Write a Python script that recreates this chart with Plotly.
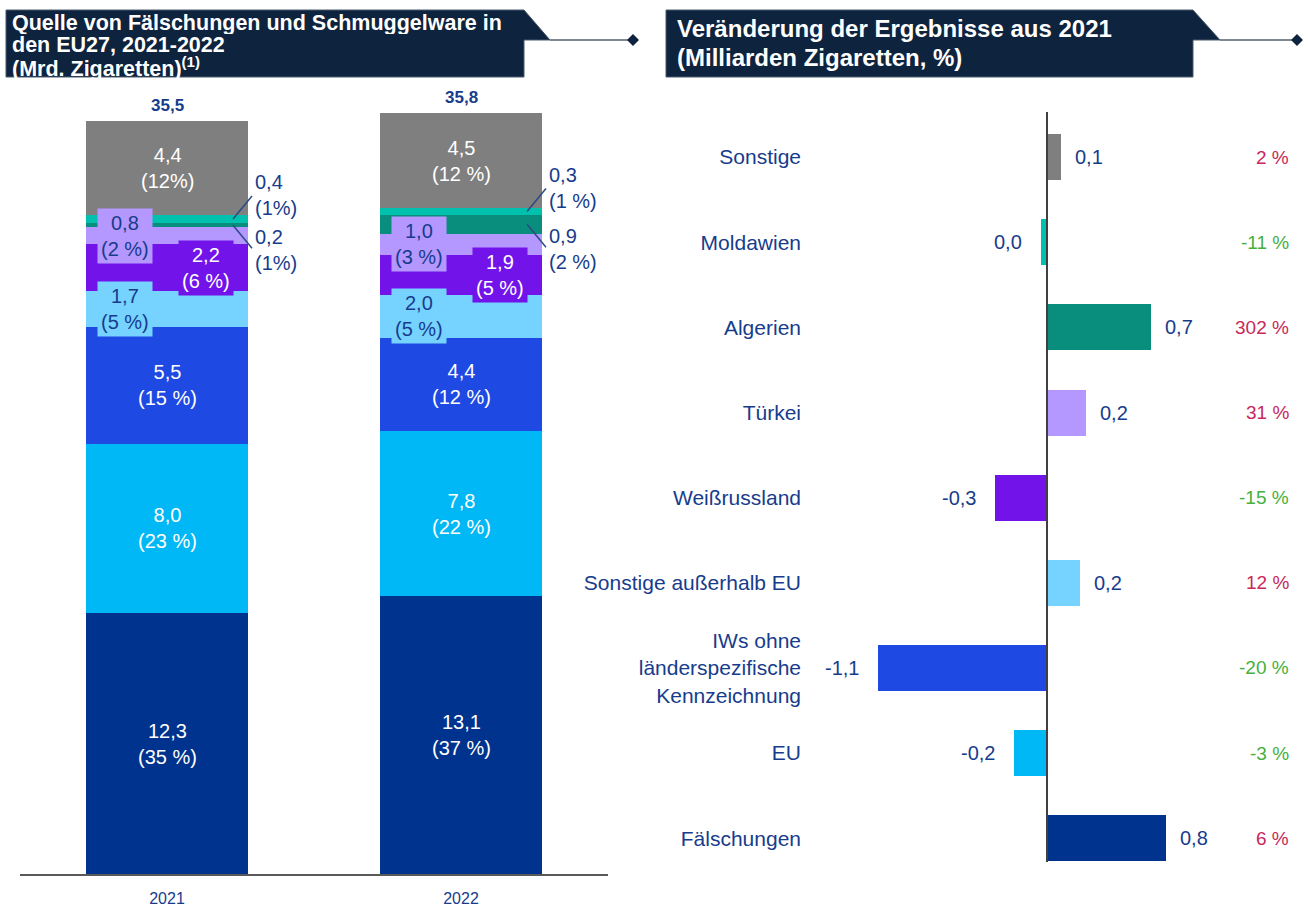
import plotly.graph_objects as go

W, H = 1310, 908
FONT = "Liberation Sans, Arial, sans-serif"
NAVY_TXT = "#173C8C"
HEADER_BG = "#0E233D"

# ---------------- data: left stacked chart (bottom -> top) ----------------
years = ["2021", "2022"]
segments = ["Fälschungen", "EU", "IWs ohne länderspezifische Kennzeichnung",
            "Sonstige außerhalb EU", "Weißrussland", "Türkei", "Algerien",
            "Moldawien", "Sonstige"]
vol_2021 = [12.3, 8.0, 5.5, 1.7, 2.2, 0.8, 0.2, 0.4, 4.4]
vol_2022 = [13.1, 7.8, 4.4, 2.0, 1.9, 1.0, 0.9, 0.3, 4.5]
share_2021 = ["35 %", "23 %", "15 %", "5 %", "6 %", "2 %", "1%", "1%", "12%"]
share_2022 = ["37 %", "22 %", "12 %", "5 %", "5 %", "3 %", "2 %", "1 %", "12 %"]
totals = [35.5, 35.8]

# ---------------- data: right change chart (top -> bottom) ----------------
change_categories = ["Sonstige", "Moldawien", "Algerien", "Türkei", "Weißrussland",
                     "Sonstige außerhalb EU",
                     "IWs ohne<br>länderspezifische<br>Kennzeichnung",
                     "EU", "Fälschungen"]
change_values = [0.09, -0.04, 0.69, 0.26, -0.35, 0.22, -1.13, -0.22, 0.79]
change_labels = ["0,1", "0,0", "0,7", "0,2", "-0,3", "0,2", "-1,1", "-0,2", "0,8"]
change_pct = [2, -11, 302, 31, -15, 12, -20, -3, 6]

# ---------------- styles ----------------
seg_colors = {
    "Fälschungen": "#00338D",
    "EU": "#00B8F5",
    "IWs ohne länderspezifische Kennzeichnung": "#1E49E2",
    "Sonstige außerhalb EU": "#76D2FF",
    "Weißrussland": "#7213EA",
    "Türkei": "#B497FF",
    "Algerien": "#098E7E",
    "Moldawien": "#00C0AE",
    "Sonstige": "#7F7F7F",
}
seg_text_color = {s: "white" for s in segments}
seg_text_color["Sonstige außerhalb EU"] = NAVY_TXT
seg_text_color["Türkei"] = NAVY_TXT
# label placement: center / left / right box / outside up / outside down
seg_label_style = {
    "Fälschungen": "center", "EU": "center",
    "IWs ohne länderspezifische Kennzeichnung": "center",
    "Sonstige außerhalb EU": "left", "Weißrussland": "right", "Türkei": "left",
    "Algerien": "out_down", "Moldawien": "out_up", "Sonstige": "center",
}
change_colors = ["#7F7F7F", "#00C0AE", "#098E7E", "#B497FF", "#7213EA",
                 "#76D2FF", "#1E49E2", "#00B8F5", "#00338D"]


def fmt(v):
    return f"{v:.1f}".replace(".", ",")


def px(x):
    return x / W


def py(y):
    return 1 - y / H


# axis geometry of the left chart
X0, X1 = 20, 608          # x-domain in pixels
XU = (X1 - X0) / 2        # pixels per category step
Y0, Y1 = 874, 90          # y-domain in pixels
PXU = 21.2                # pixels per Mrd.

fig = go.Figure()

vols = [vol_2021, vol_2022]
shares = [share_2021, share_2022]

for i, seg in enumerate(segments):
    fig.add_trace(go.Bar(
        x=years, y=[vol_2021[i], vol_2022[i]], name=seg,
        marker=dict(color=seg_colors[seg], line=dict(width=0)),
        width=0.55, xaxis="x", yaxis="y", showlegend=False, hoverinfo="skip",
    ))

fig.add_trace(go.Bar(
    x=change_values, y=change_categories, orientation="h",
    marker=dict(color=change_colors, line=dict(width=0)),
    width=0.54, xaxis="x2", yaxis="y2", showlegend=False, hoverinfo="skip",
))

annotations = []
shapes = []
LBL = 20

# ---- left chart labels (x given as category index) ----
for j, yr in enumerate(years):
    base = 0.0
    for i, seg in enumerate(segments):
        v = vols[j][i]
        mid = base + v / 2
        base += v
        txt = f"{fmt(v)}<br>({shares[j][i]})"
        style = seg_label_style[seg]
        col = seg_text_color[seg]
        if style == "center":
            annotations.append(dict(x=j, y=mid, xref="x", yref="y", text=txt,
                                    showarrow=False, font=dict(size=LBL, color=col, family=FONT)))
        elif style in ("left", "right"):
            annotations.append(dict(x=j, y=mid, xref="x", yref="y", text=txt,
                                    showarrow=False, xshift=-42 if style == "left" else 39,
                                    bgcolor=seg_colors[seg], borderpad=3,
                                    font=dict(size=LBL, color=col, family=FONT)))
        else:
            up = style == "out_up"
            sign = 1 if up else -1
            # leader line from inside the segment to the outside label
            shapes.append(dict(type="line", xref="x", yref="y",
                               x0=j + 66 / XU, y0=mid,
                               x1=j + 85 / XU, y1=mid + sign * 23 / PXU,
                               line=dict(color="#2B4A86", width=1.5)))
            annotations.append(dict(x=j, y=mid, xref="x", yref="y", text=txt,
                                    showarrow=False, xanchor="left", align="left",
                                    xshift=86, yshift=24 if up else -25,
                                    font=dict(size=LBL, color=NAVY_TXT, family=FONT)))
    annotations.append(dict(x=j, y=sum(vols[j]), xref="x", yref="y",
                            text=f"<b>{fmt(totals[j])}</b>", showarrow=False,
                            yanchor="bottom", yshift=4,
                            font=dict(size=17, color=NAVY_TXT, family=FONT)))

# ---- right chart labels ----
for cat, v, lab, pct in zip(change_categories, change_values, change_labels, change_pct):
    pos = v >= 0
    annotations.append(dict(x=v, y=cat, xref="x2", yref="y2", text=lab, showarrow=False,
                            xanchor="left" if pos else "right", xshift=12 if pos else -17,
                            font=dict(size=LBL, color=NAVY_TXT, family=FONT)))
    annotations.append(dict(x=px(1291), y=cat, xref="paper", yref="y2", text=f"{pct} %",
                            showarrow=False, xanchor="right",
                            font=dict(size=19, color="#C8285A" if pct > 0 else "#46B03C",
                                      family=FONT)))

# ---- headers ----
left_title = ["Quelle von Fälschungen und Schmuggelware in",
              "den EU27, 2021-2022",
              "(Mrd. Zigaretten)<sup>(1)</sup>"]
for t, yy in zip(left_title, [23, 45, 67]):
    annotations.append(dict(x=px(11), y=py(yy), xref="paper", yref="paper", text=f"<b>{t}</b>",
                            showarrow=False, xanchor="left", yanchor="middle",
                            height=22, valign="middle", borderpad=0,
                            font=dict(size=21.5, color="white", family=FONT)))
right_title = ["Veränderung der Ergebnisse aus 2021", "(Milliarden Zigaretten, %)"]
for t, yy in zip(right_title, [29, 58]):
    annotations.append(dict(x=px(675), y=py(yy), xref="paper", yref="paper", text=f"<b>{t}</b>",
                            showarrow=False, xanchor="left", yanchor="middle",
                            font=dict(size=24, color="white", family=FONT)))


def poly(points):
    return "M " + " L ".join(f"{px(a)},{py(b)}" for a, b in points) + " Z"


for (x0, x1, dx, dia) in [(6, 524, 550, 633), (666, 1193, 1220, 1297)]:
    shapes.append(dict(type="path", xref="paper", yref="paper",
                       path=poly([(x0, 10), (x1, 10), (dx, 40), (x1, 40), (x1, 77), (x0, 77)]),
                       fillcolor=HEADER_BG, line=dict(width=1, color="#4A5A6E")))
    shapes.append(dict(type="line", xref="paper", yref="paper",
                       x0=px(dx), x1=px(dia), y0=py(40), y1=py(40),
                       line=dict(color="#55606E", width=1.5)))
    shapes.append(dict(type="path", xref="paper", yref="paper",
                       path=poly([(dia - 6, 40), (dia, 34), (dia + 6, 40), (dia, 46)]),
                       fillcolor=HEADER_BG, line=dict(width=0)))

# zero line of change chart
shapes.append(dict(type="line", xref="x2", yref="y2 domain", x0=0, x1=0, y0=0, y1=1,
                   line=dict(color="#404040", width=2), layer="above"))

fig.update_layout(
    width=W, height=H, margin=dict(l=0, r=0, t=0, b=0),
    paper_bgcolor="white", plot_bgcolor="white",
    barmode="stack", bargap=0,
    font=dict(family=FONT),
    xaxis=dict(domain=[px(X0), px(X1)], type="category", range=[-0.5, 1.5],
               showline=True, linecolor="#595959", linewidth=2, ticks="",
               showgrid=False, zeroline=False, anchor="y", ticklabelstandoff=9,
               tickfont=dict(size=16, color=NAVY_TXT, family=FONT)),
    yaxis=dict(domain=[py(Y0), py(Y1)], range=[0, (Y0 - Y1) / PXU], visible=False,
               anchor="x", showgrid=False, zeroline=False),
    xaxis2=dict(domain=[px(806), px(1300)], range=[-(1047 - 806) / 150, (1300 - 1047) / 150],
                visible=False, anchor="y2", showgrid=False, zeroline=False),
    yaxis2=dict(domain=[py(862), py(112)], type="category", categoryorder="array",
                categoryarray=change_categories, range=[8.28, -0.53], anchor="x2",
                showline=False, showgrid=False, zeroline=False, ticks="", ticklabelstandoff=4,
                tickfont=dict(size=21, color=NAVY_TXT, family=FONT)),
    annotations=annotations, shapes=shapes,
)

fig.write_html("out.html", config={"displayModeBar": False},
               post_script="document.body.style.margin='0';")
